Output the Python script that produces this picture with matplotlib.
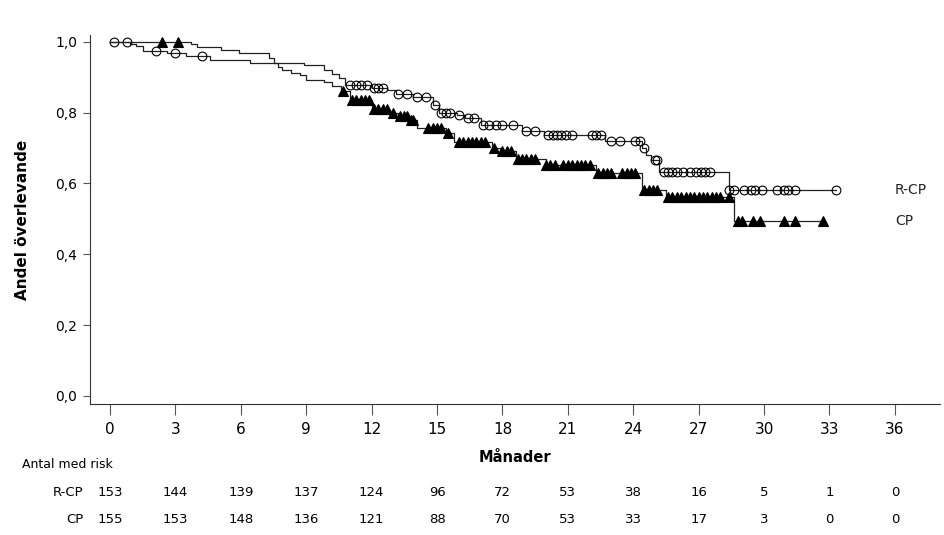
import matplotlib
matplotlib.use("Agg")
import matplotlib.pyplot as plt
import matplotlib.transforms as mtransforms
import numpy as np

params={'font':{'family':'DejaVu Sans','size':10},
	'figure':{'figsize':(9.45,5.35),'dpi':100}}
for key in params:
	matplotlib.rc(key, **params[key])
narrow=['Liberation Sans Narrow','DejaVu Sans']

# R-CP: step times and survival after each step, censoring times
rcp_t=[0,0.9,1.2,1.5,2.6,3.5,4.6,6.4,8.9,9.8,10.2,10.5,10.8,12.0,12.7,13.1,13.9,14.8,15.1,15.9,16.3,17.0,18.9,19.9,22.7,24.4,24.6,24.8,25.2,28.4]
rcp_s=[1.0,0.993,0.987,0.974,0.967,0.96,0.947,0.94,0.934,0.921,0.91,0.898,0.878,0.87,0.863,0.852,0.843,0.82,0.80,0.792,0.784,0.765,0.748,0.736,0.72,0.70,0.68,0.666,0.633,0.582]
rcp_cens=[0.2,0.8,2.1,3.0,4.2,11.0,11.3,11.5,11.8,12.1,12.3,12.5,13.2,13.6,14.1,14.5,14.9,15.2,15.4,15.6,16.0,16.4,16.7,17.1,17.4,17.7,18.0,18.5,19.1,19.5,20.1,20.3,20.5,20.7,20.9,21.2,22.1,22.3,22.5,23.0,23.4,24.1,24.3,24.5,25.0,25.1,25.4,25.6,25.8,26.0,26.3,26.6,26.9,27.1,27.3,27.5,28.4,28.6,29.1,29.4,29.6,29.9,30.6,30.9,31.1,31.4,33.3]

# CP
cp_t=[0,3.7,4.0,5.1,5.9,7.3,7.5,7.7,7.9,8.3,8.7,9.0,9.8,10.2,10.6,11.0,12.0,12.8,13.2,13.7,14.1,15.4,15.8,17.5,17.9,18.6,20.0,22.3,24.4,25.5,28.6]
cp_s=[1.0,0.993,0.985,0.977,0.969,0.955,0.94,0.93,0.92,0.913,0.905,0.893,0.887,0.875,0.862,0.835,0.81,0.80,0.79,0.78,0.756,0.742,0.717,0.70,0.69,0.668,0.652,0.63,0.582,0.562,0.493]
cp_cens=[2.4,3.1,10.7,11.1,11.3,11.5,11.7,11.9,12.1,12.3,12.5,12.7,13.0,13.3,13.5,13.6,13.8,13.9,14.6,14.8,15.0,15.2,15.5,16.0,16.2,16.4,16.6,16.8,17.0,17.2,17.6,18.0,18.2,18.4,18.7,18.9,19.1,19.3,19.5,20.0,20.2,20.4,20.8,21.0,21.2,21.4,21.6,21.8,22.0,22.4,22.6,22.8,23.0,23.5,23.7,23.9,24.1,24.5,24.7,24.9,25.1,25.6,25.8,26.0,26.2,26.4,26.6,26.8,27.0,27.2,27.4,27.6,27.8,28.0,28.4,28.8,29.0,29.5,29.8,30.9,31.4,32.7]

xticks=[0,3,6,9,12,15,18,21,24,27,30,33,36]
yticks=[0.0,0.2,0.4,0.6,0.8,1.0]
ytick_labels=["0,0","0,2","0,4","0,6","0,8","1,0"]
risk_rcp=[153,144,139,137,124,96,72,53,38,16,5,1,0]
risk_cp=[155,153,148,136,121,88,70,53,33,17,3,0,0]

fig=plt.figure()
ax=fig.add_axes([0.0952,0.2449,0.8995,0.6897])

def km(ax,t,s,cens,marker,ms,mfc,label):
	tt=list(t)+[max(cens)] ; ss=list(s)+[s[-1]]
	ax.step(tt,ss,where='post',color='#222222',lw=0.9)
	idx=np.searchsorted(t,cens,side='right')-1
	ax.plot(cens,np.array(s)[idx],ls='none',marker=marker,ms=ms,mfc=mfc,mec='black',mew=0.8,label=label)

km(ax,rcp_t,rcp_s,rcp_cens,'o',6.3,'none','R-CP')
km(ax,cp_t,cp_s,cp_cens,'^',6.8,'black','CP')

ax.set_xlim(-0.92,38.07)
ax.set_ylim(-0.023,1.019)
ax.set_xticks(xticks)
ax.set_yticks(yticks)
ax.set_yticklabels(ytick_labels)
for lab in ax.get_xticklabels():
	lab.set_family(narrow) ; lab.set_fontsize(11)
for sp in ['top','right']:
	ax.spines[sp].set_visible(False)
ax.spines['left'].set_color('#333333') ; ax.spines['bottom'].set_color('#333333')
ax.tick_params(axis='x',length=8,pad=5,color='#555555')
ax.tick_params(axis='y',length=5,pad=4,labelsize=10,color='#555555')
ax.set_xlabel("Månader",fontweight='bold',fontsize=10.5,labelpad=9)
ax.set_ylabel("Andel överlevande",fontweight='bold',fontsize=11)
ax.yaxis.set_label_coords(-0.0706,0.5)

ax.text(36.0,rcp_s[-1],"R-CP",fontsize=10,va='center',ha='left',color='#222222')
ax.text(36.0,cp_s[-1],"CP",fontsize=10,va='center',ha='left',color='#222222')

# number at risk table
trans=mtransforms.blended_transform_factory(ax.transData,ax.transAxes)
fig.text(22/945,1-464/535,"Antal med risk",fontsize=9,va='center',ha='left',family=narrow)
for row,(name,vals) in enumerate([("R-CP",risk_rcp),("CP",risk_cp)]):
	yy=[-0.241,-0.314][row]
	ax.text(-1.2,yy,name,transform=trans,fontsize=9.5,ha='right',va='center',family=narrow)
	for x,v in zip(xticks,vals):
		ax.text(x,yy,str(v),transform=trans,fontsize=9.5,ha='center',va='center',family=narrow)

plt.savefig("out.png")
